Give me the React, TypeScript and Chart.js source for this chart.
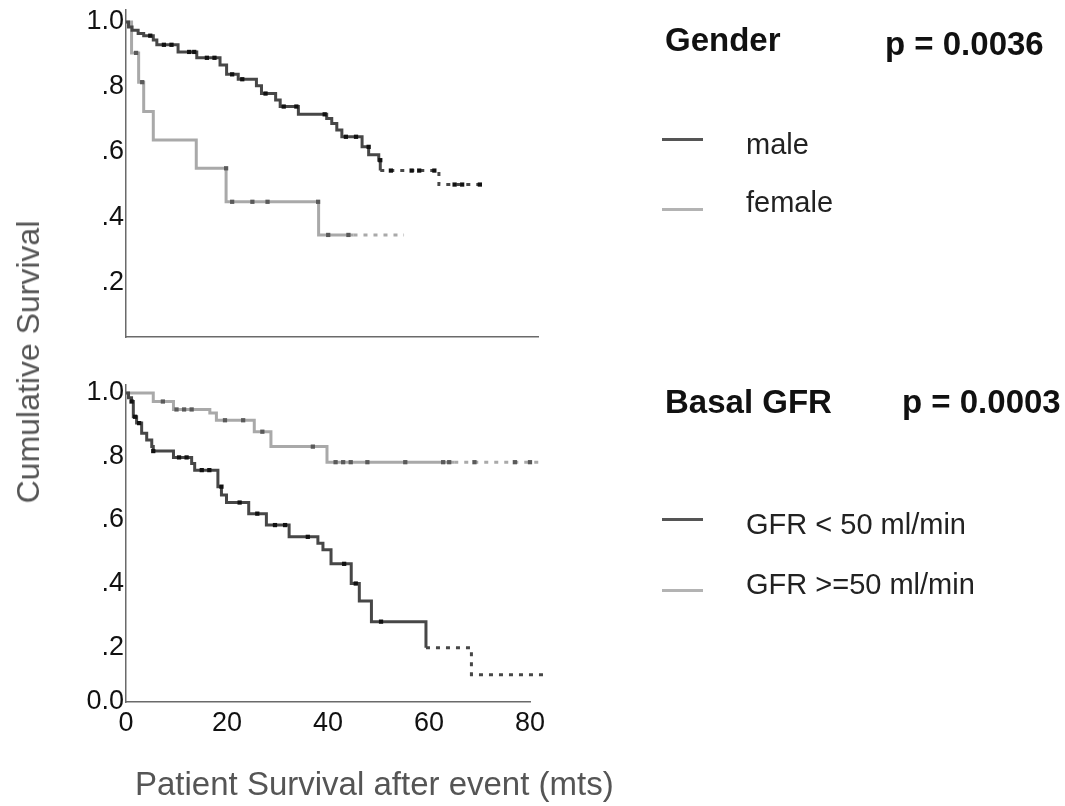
import React, { useEffect, useRef } from "react";
import { Chart, registerables } from "chart.js";

Chart.register(...registerables);

const FONT = "'Liberation Sans', Arial, Helvetica, sans-serif";

// ---------- Top panel: Gender ----------
const maleMonths = [0, 0.5, 1.2, 2.4, 3.5, 5.4, 6.1, 10.3, 14.0, 18.6, 19.9, 22.2, 25.8, 26.8, 29.6, 30.5, 34.1, 39.7, 40.7, 41.7, 42.7, 46.7, 48.0, 50.0, 50.3, 61.9, 70.4];
const maleSurvival = [1.0, 0.985, 0.975, 0.965, 0.958, 0.945, 0.93, 0.908, 0.89, 0.868, 0.839, 0.824, 0.804, 0.78, 0.76, 0.74, 0.716, 0.703, 0.688, 0.668, 0.647, 0.616, 0.592, 0.575, 0.543, 0.5, 0.5];
const maleDottedFrom = 50.3;
const maleCensorMonths = [4.8, 7.5, 9.0, 12.5, 13.5, 16.0, 17.5, 21.0, 23.0, 27.6, 31.2, 33.7, 39.3, 43.5, 45.5, 48.0, 50.3, 52.4, 56.5, 58.0, 61.0, 65.0, 66.5, 70.0];
const maleCensorSurvival = [0.958, 0.93, 0.93, 0.908, 0.908, 0.89, 0.89, 0.839, 0.824, 0.78, 0.74, 0.74, 0.716, 0.647, 0.647, 0.616, 0.575, 0.543, 0.543, 0.543, 0.543, 0.5, 0.5, 0.5];

const femaleMonths = [0, 1.1, 2.5, 3.5, 5.4, 13.9, 19.8, 38.1, 45, 55];
const femaleSurvival = [1.0, 0.905, 0.815, 0.725, 0.637, 0.55, 0.447, 0.345, 0.345, 0.345];
const femaleDottedFrom = 45;
const femaleCensorMonths = [2.0, 3.2, 19.8, 21.0, 25.0, 28.0, 38.0, 40.0, 44.0];
const femaleCensorSurvival = [0.905, 0.815, 0.55, 0.447, 0.447, 0.447, 0.447, 0.345, 0.345];

// ---------- Bottom panel: Basal GFR ----------
const lowGfrMonths = [0, 0.5, 1.1, 1.45, 2.1, 3.1, 4.1, 5.1, 5.4, 9.4, 13.0, 13.6, 18.2, 18.9, 19.9, 24.3, 27.8, 32.3, 38.0, 39.0, 40.6, 44.6, 46.2, 48.6, 59.4, 68.4, 82.8];
const lowGfrSurvival = [1.0, 0.985, 0.973, 0.925, 0.905, 0.873, 0.852, 0.831, 0.817, 0.797, 0.778, 0.757, 0.705, 0.679, 0.655, 0.62, 0.584, 0.547, 0.527, 0.506, 0.462, 0.4, 0.345, 0.28, 0.198, 0.113, 0.113];
const lowGfrDottedFrom = 59.4;
const lowGfrCensorMonths = [1.1, 1.8, 2.6, 5.4, 10.5, 12.0, 15.0, 16.5, 18.9, 22.5, 26.0, 29.5, 31.5, 36.0, 43.2, 45.5, 50.5];
const lowGfrCensorSurvival = [0.973, 0.925, 0.905, 0.817, 0.797, 0.797, 0.757, 0.757, 0.705, 0.655, 0.62, 0.584, 0.584, 0.547, 0.462, 0.4, 0.28];

const highGfrMonths = [0, 5.4, 9.4, 16.6, 17.9, 25.4, 28.7, 39.8, 65, 82.8];
const highGfrSurvival = [1.0, 0.973, 0.948, 0.937, 0.914, 0.878, 0.831, 0.782, 0.782, 0.782];
const highGfrDottedFrom = 65;
const highGfrCensorMonths = [7.3, 10.0, 11.5, 13.0, 19.6, 23.2, 27.0, 37.0, 41.5, 43.0, 44.5, 47.8, 55.3, 62.8, 64.0, 69.0, 77.0, 80.0];
const highGfrCensorSurvival = [0.973, 0.948, 0.948, 0.948, 0.914, 0.914, 0.878, 0.831, 0.782, 0.782, 0.782, 0.782, 0.782, 0.782, 0.782, 0.782, 0.782, 0.782];

// ---------- Ticks ----------
const xTicksBottom = [0, 20, 40, 60, 80];
const xTickLabelsBottom = ["0", "20", "40", "60", "80"];
const yTicksTop = [0.2, 0.4, 0.6, 0.8, 1.0];
const yTickLabelsTop = [".2", ".4", ".6", ".8", "1.0"];
const yTicksBottom = [0, 0.2, 0.4, 0.6, 0.8, 1.0];
const yTickLabelsBottom = ["0.0", ".2", ".4", ".6", ".8", "1.0"];

const DARK_LINE = "#474747";
const LIGHT_LINE = "#a9a9a9";
const DARK_MARK = "#111111";
const LIGHT_MARK = "#5a5a5a";
const AXIS = "#6a6a6a";

const pts = (t: number[], s: number[]) => t.map((x, i) => ({ x, y: s[i] }));

function curve(label: string, t: number[], s: number[], color: string, dottedFrom: number) {
  return {
    type: "line" as const,
    label,
    data: pts(t, s),
    borderColor: color,
    borderWidth: 3,
    pointRadius: 0,
    stepped: "before" as const,
    fill: false,
    clip: false as any,
    order: 2,
    segment: {
      borderDash: (ctx: any) => (ctx.p0.parsed.x >= dottedFrom - 1e-9 ? [4, 6] : undefined),
    },
  };
}

function censor(label: string, t: number[], s: number[], color: string) {
  return {
    type: "scatter" as const,
    label,
    data: pts(t, s),
    showLine: false,
    pointStyle: "rect" as const,
    pointRadius: 3,
    pointBackgroundColor: color,
    pointBorderWidth: 0,
    clip: false as any,
    order: 1,
  };
}

type PanelCfg = {
  padTop: number;
  padRight: number;
  xAxisH: number;
  xMax: number;
  yMin: number;
  yMax: number;
  xTicks: number[];
  xLabels: string[];
  yTicks: number[];
  yLabels: string[];
};

function makeOptions(cfg: PanelCfg): any {
  return {
    animation: false,
    responsive: false,
    maintainAspectRatio: false,
    events: [],
    layout: { padding: { top: cfg.padTop, right: cfg.padRight, bottom: 0, left: 0 } },
    plugins: { legend: { display: false }, tooltip: { enabled: false }, title: { display: false } },
    scales: {
      x: {
        type: "linear",
        min: 0,
        max: cfg.xMax,
        grid: { display: false, drawTicks: false },
        border: { display: true, color: AXIS, width: 1.5 },
        ticks: {
          display: cfg.xTicks.length > 0,
          font: { family: FONT, size: 27 },
          color: "#111",
          padding: 5,
          maxRotation: 0,
          autoSkip: false,
          callback: (_v: any, i: number) => cfg.xLabels[i],
        },
        afterBuildTicks: (scale: any) => {
          scale.ticks = cfg.xTicks.map((v) => ({ value: v }));
        },
        afterFit: (scale: any) => {
          scale.height = cfg.xAxisH;
          scale.paddingLeft = 0;
          scale.paddingRight = 0;
        },
      },
      y: {
        type: "linear",
        min: cfg.yMin,
        max: cfg.yMax,
        grid: { display: false, drawTicks: false },
        border: { display: true, color: AXIS, width: 1.5 },
        ticks: {
          font: { family: FONT, size: 27 },
          color: "#111",
          padding: 2,
          autoSkip: false,
          callback: (_v: any, i: number) => cfg.yLabels[i],
        },
        afterBuildTicks: (scale: any) => {
          scale.ticks = cfg.yTicks.map((v) => ({ value: Math.max(v, cfg.yMin) }));
        },
        afterFit: (scale: any) => {
          scale.width = 126;
          scale.paddingTop = 0;
          scale.paddingBottom = 0;
        },
      },
    },
  };
}

function Panel({ top, height, datasets, cfg }: { top: number; height: number; datasets: any[]; cfg: PanelCfg }) {
  const ref = useRef<HTMLCanvasElement | null>(null);
  useEffect(() => {
    if (!ref.current) return;
    const chart = new Chart(ref.current, {
      type: "line",
      data: { datasets },
      options: makeOptions(cfg),
    } as any);
    return () => chart.destroy();
  }, []);
  return (
    <canvas
      ref={ref}
      width={1065}
      height={height}
      style={{ position: "absolute", left: 0, top, width: 1065, height }}
    />
  );
}

function Txt({ x, baseline, size, bold, color, children }: any) {
  return (
    <div
      style={{
        position: "absolute",
        left: x,
        top: baseline - 0.8465 * size,
        fontSize: size,
        lineHeight: 1,
        fontFamily: FONT,
        fontWeight: bold ? "bold" : "normal",
        color,
        whiteSpace: "nowrap",
      }}
    >
      {children}
    </div>
  );
}

function Swatch({ y, color }: { y: number; color: string }) {
  return <div style={{ position: "absolute", left: 662, top: y - 1.5, width: 41, height: 3, background: color }} />;
}

export default function App() {
  const topDatasets = [
    censor("male censored", maleCensorMonths, maleCensorSurvival, DARK_MARK),
    censor("female censored", femaleCensorMonths, femaleCensorSurvival, LIGHT_MARK),
    curve("male", maleMonths, maleSurvival, DARK_LINE, maleDottedFrom),
    curve("female", femaleMonths, femaleSurvival, LIGHT_LINE, femaleDottedFrom),
  ];
  const bottomDatasets = [
    censor("GFR < 50 censored", lowGfrCensorMonths, lowGfrCensorSurvival, DARK_MARK),
    censor("GFR >=50 censored", highGfrCensorMonths, highGfrCensorSurvival, LIGHT_MARK),
    curve("GFR < 50 ml/min", lowGfrMonths, lowGfrSurvival, DARK_LINE, lowGfrDottedFrom),
    curve("GFR >=50 ml/min", highGfrMonths, highGfrSurvival, LIGHT_LINE, highGfrDottedFrom),
  ];
  const topCfg: PanelCfg = {
    padTop: 10,
    padRight: 527,
    xAxisH: 23,
    xMax: 81.5,
    yMin: 0.031,
    yMax: 1.037,
    xTicks: [],
    xLabels: [],
    yTicks: yTicksTop,
    yLabels: yTickLabelsTop,
  };
  const bottomCfg: PanelCfg = {
    padTop: 25,
    padRight: 535,
    xAxisH: 104,
    xMax: 80,
    yMin: 0.027,
    yMax: 1.025,
    xTicks: xTicksBottom,
    xLabels: xTickLabelsBottom,
    yTicks: yTicksBottom,
    yLabels: yTickLabelsBottom,
  };

  return (
    <div style={{ position: "fixed", left: 0, top: 0, width: 1065, height: 806, background: "#fff", overflow: "hidden" }}>
      <Panel top={0} height={360} datasets={topDatasets} cfg={topCfg} />
      <Panel top={360} height={446} datasets={bottomDatasets} cfg={bottomCfg} />

      <div
        style={{
          position: "absolute",
          left: 28,
          top: 362,
          transform: "translate(-50%, -50%) rotate(-90deg)",
          fontSize: 32,
          lineHeight: 1,
          fontFamily: FONT,
          color: "#555",
          whiteSpace: "nowrap",
        }}
      >
        Cumulative Survival
      </div>
      <Txt x={135} baseline={795} size={33} color="#555">Patient Survival after event (mts)</Txt>

      <Txt x={665} baseline={51} size={33} bold color="#111">Gender</Txt>
      <Txt x={885} baseline={55} size={33} bold color="#111">p = 0.0036</Txt>
      <Swatch y={139.5} color="#555" />
      <Txt x={746} baseline={155} size={29} color="#222">male</Txt>
      <Swatch y={209.5} color="#b3b3b3" />
      <Txt x={746} baseline={213} size={29} color="#222">female</Txt>

      <Txt x={665} baseline={413} size={33} bold color="#111">Basal GFR</Txt>
      <Txt x={902} baseline={413} size={33} bold color="#111">p = 0.0003</Txt>
      <Swatch y={519.5} color="#555" />
      <Txt x={746} baseline={535} size={29} color="#222">GFR &lt; 50 ml/min</Txt>
      <Swatch y={590} color="#b3b3b3" />
      <Txt x={746} baseline={595} size={29} color="#222">GFR &gt;=50 ml/min</Txt>
    </div>
  );
}
